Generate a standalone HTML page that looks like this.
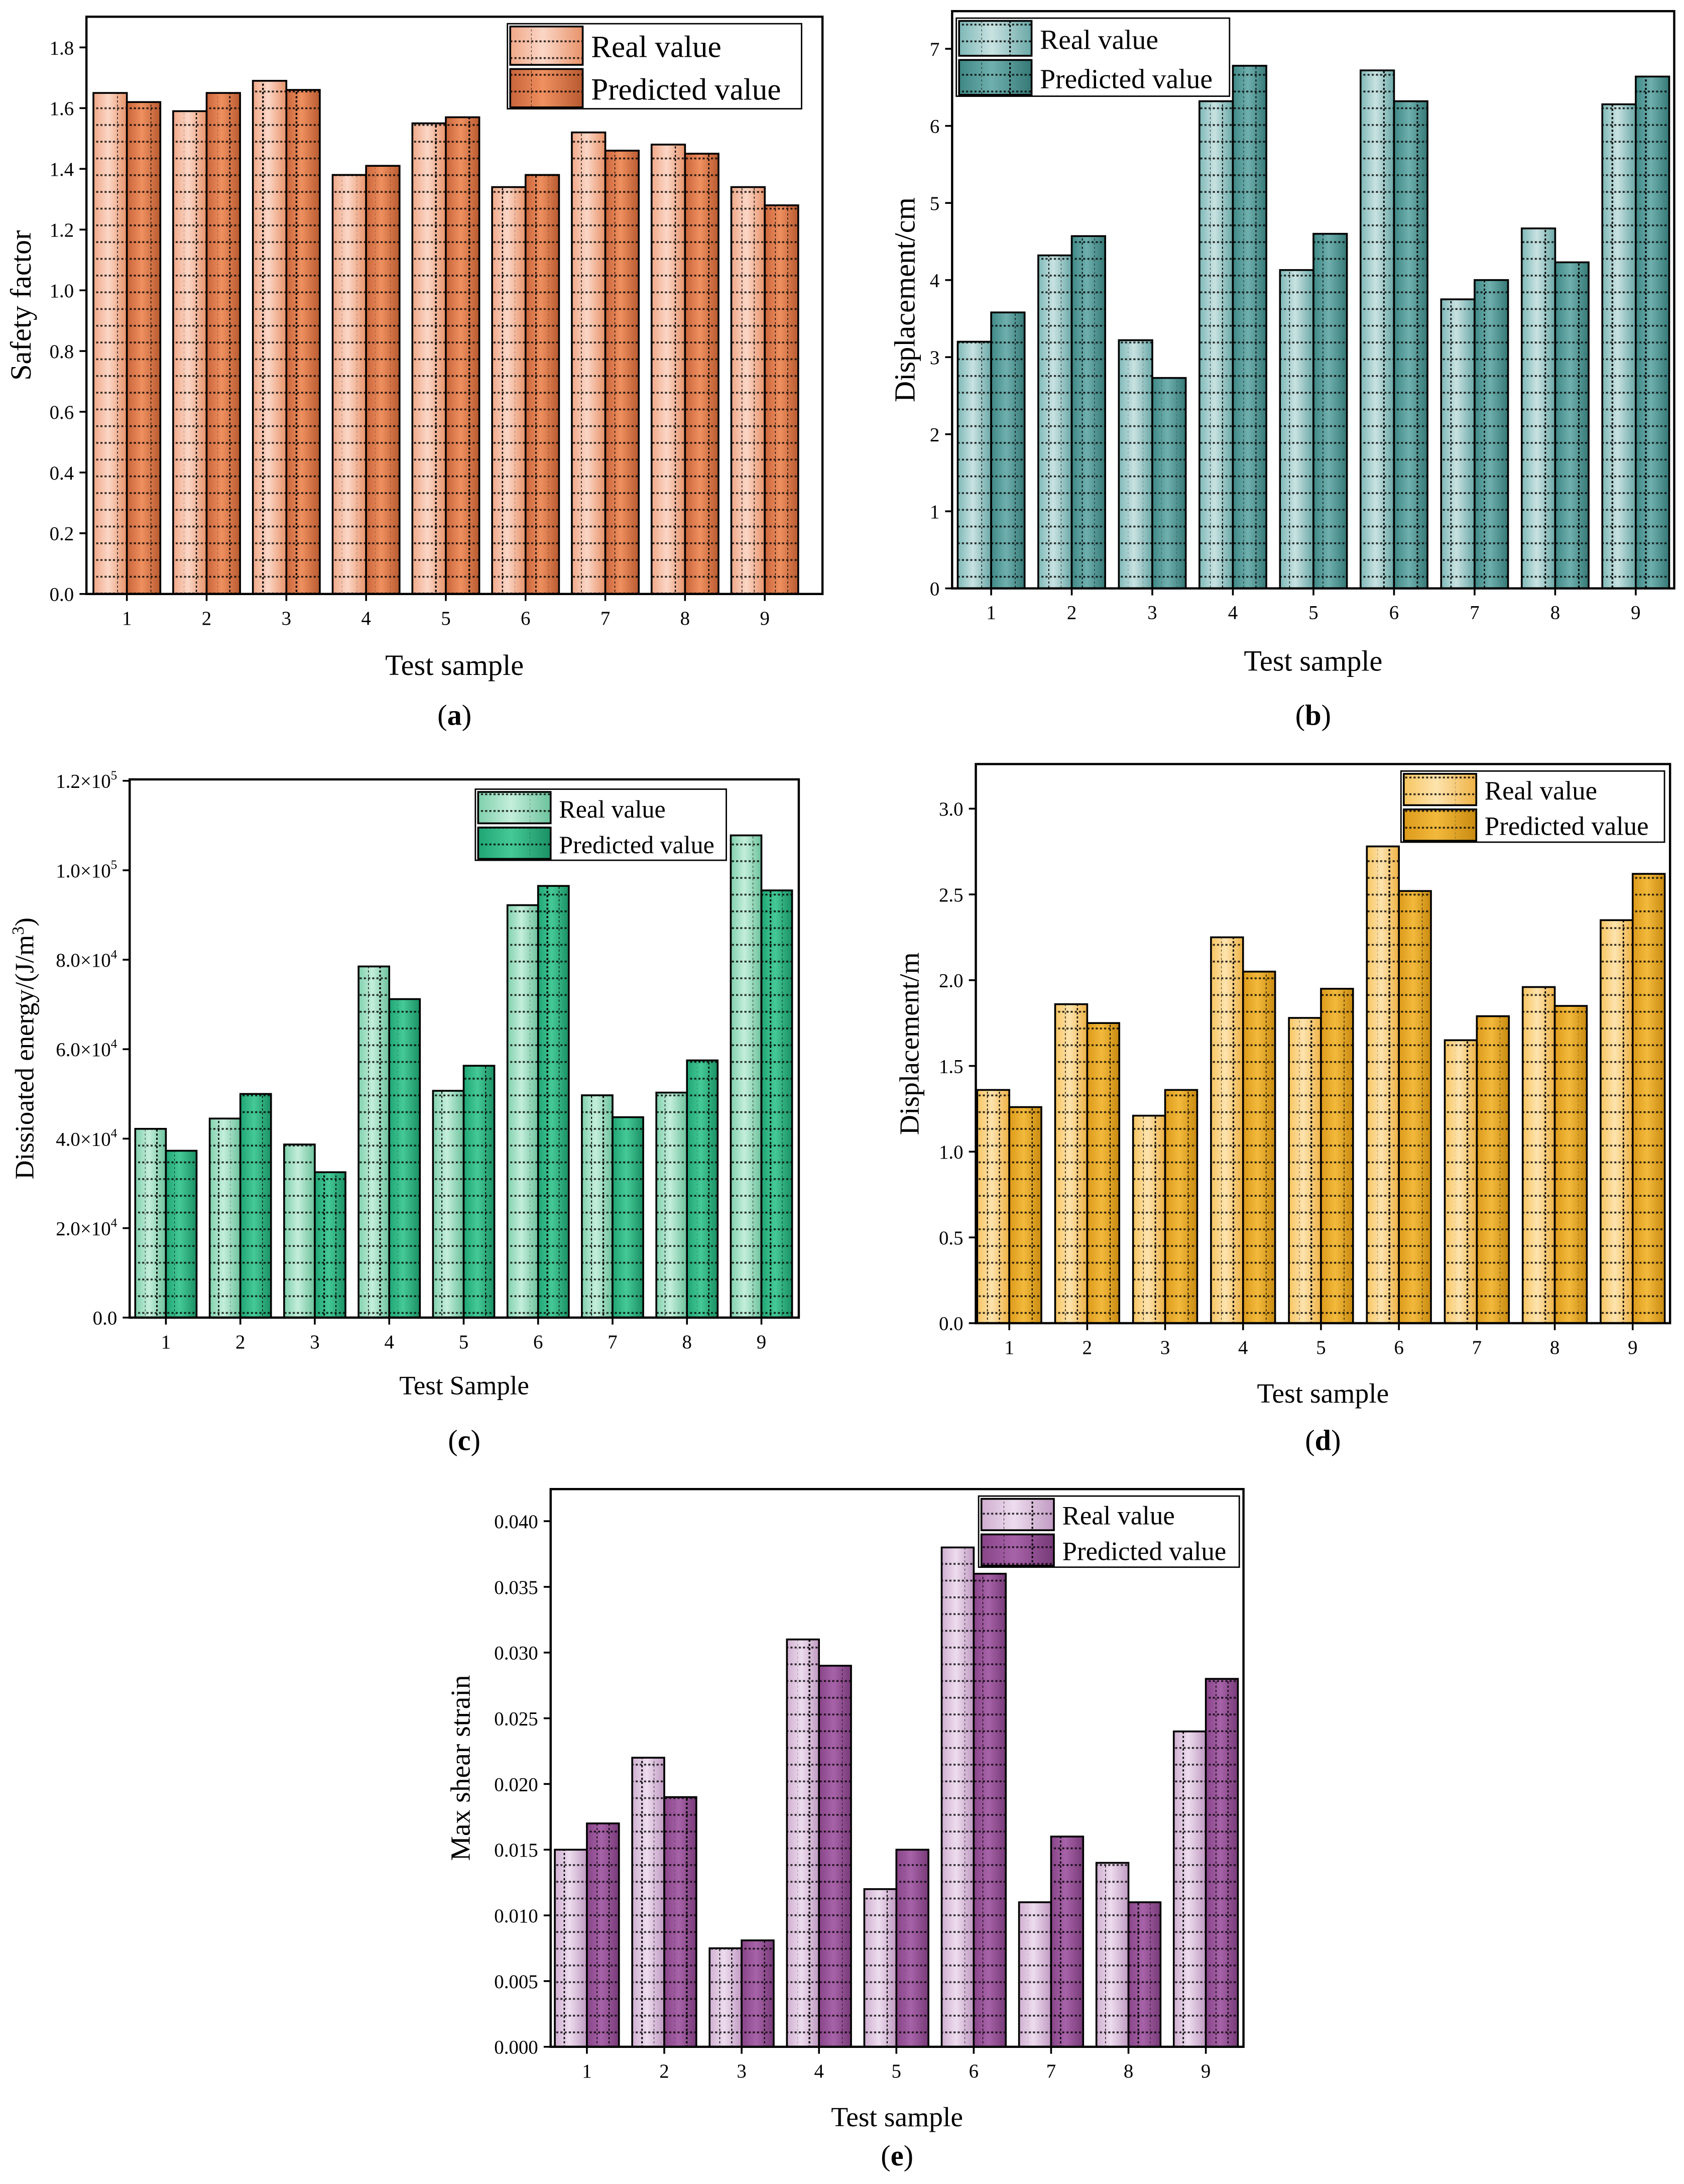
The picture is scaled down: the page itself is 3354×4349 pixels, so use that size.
<!DOCTYPE html>
<html><head><meta charset="utf-8"><style>
html,body{margin:0;padding:0;background:#fff}
svg{display:block}
text{font-family:"Liberation Serif",serif;fill:#000}
</style></head><body>
<svg id="fig" width="3354" height="4349" viewBox="0 0 1208 1566.4" xmlns="http://www.w3.org/2000/svg">
<defs>
<pattern id="hdots" width="3" height="12" patternUnits="userSpaceOnUse"><rect x="0" y="5" width="1.5" height="1.3" fill="#000"/></pattern>
<pattern id="vdots" width="4" height="3" patternUnits="userSpaceOnUse"><rect x="0" y="0" width="1.3" height="1.5" fill="#000"/></pattern>
</defs>
</svg>
<script>
const catLabels=["1","2","3","4","5","6","7","8","9"];
const aReal=[1.65,1.59,1.69,1.38,1.55,1.34,1.52,1.48,1.34];
const aPred=[1.62,1.65,1.66,1.41,1.57,1.38,1.46,1.45,1.28];
const bReal=[3.2,4.32,3.22,6.32,4.13,6.72,3.75,4.67,6.28];
const bPred=[3.58,4.57,2.73,6.78,4.6,6.32,4.0,4.23,6.64];
const cReal=[42200,44500,38700,78500,50700,92200,49700,50300,107800];
const cPred=[37300,50000,32500,71200,56300,96500,44800,57500,95500];
const dReal=[1.36,1.86,1.21,2.25,1.78,2.78,1.65,1.96,2.35];
const dPred=[1.26,1.75,1.36,2.05,1.95,2.52,1.79,1.85,2.62];
const eReal=[0.015,0.022,0.0075,0.031,0.012,0.038,0.011,0.014,0.024];
const ePred=[0.017,0.019,0.0081,0.029,0.015,0.036,0.016,0.011,0.028];
const aTicks=[0,0.2,0.4,0.6,0.8,1.0,1.2,1.4,1.6,1.8];
const bTicks=[0,1,2,3,4,5,6,7];
const cTicks=[0,20000,40000,60000,80000,100000,120000];
const dTicks=[0,0.5,1.0,1.5,2.0,2.5,3.0];
const eTicks=[0,0.005,0.010,0.015,0.020,0.025,0.030,0.035,0.040];

const NS="http://www.w3.org/2000/svg";
const svg=document.getElementById('fig');
function mk(tag,at,parent){const e=document.createElementNS(NS,tag);for(const k in at)e.setAttribute(k,at[k]);(parent||svg).appendChild(e);return e;}
let gid=0;
function grad(c1,c2,c3){const id='g'+(gid++);const defs=svg.querySelector('defs');const g=mk('linearGradient',{id:id,x1:0,x2:1,y1:0,y2:0},defs);
mk('stop',{offset:'0%','stop-color':c1},g);mk('stop',{offset:'45%','stop-color':c2},g);mk('stop',{offset:'100%','stop-color':c3},g);return 'url(#'+id+')';}
function bar(g,x,y,w,h,fill,name){
 const r=mk('rect',{x:x,y:y,width:w,height:h,fill:fill},g);
 
 
 mk('rect',{x:x,y:y,width:w,height:h,fill:'url(#hdots)',opacity:0.8},g);
 [0.3,0.7].forEach(f=>mk('rect',{x:x+w*f-0.6,y:y,width:1.3,height:h,fill:'url(#vdots)'},g));
 mk('rect',{x:x,y:y,width:w,height:h,fill:'none',stroke:'#000','stroke-width':1.3},g);
}
function panel(p){
 const g=mk('g',{});
 
 
 const yS=v=>p.y0-(v-0)/(p.ymax)*(p.y0-p.yTop);
 const xS=i=>p.cx0+i*p.step;
 const gr=grad(p.lc[0],p.lc[1],p.lc[2]), gd=grad(p.dc[0],p.dc[1],p.dc[2]);
 p.real.forEach((v,i)=>bar(g,xS(i)-p.bw,yS(v),p.bw,yS(0)-yS(v),gr,'real-bar-'+(i+1)));
 p.pred.forEach((v,i)=>bar(g,xS(i),yS(v),p.bw,yS(0)-yS(v),gd,'predicted-bar-'+(i+1)));
 const fr=mk('rect',{x:p.x1,y:p.ytop,width:p.x2-p.x1,height:p.y0-p.ytop,fill:'none',stroke:'#000','stroke-width':1.6},g);
 
 p.ticks.forEach(t=>{const y=yS(t);mk('line',{x1:p.x1-5,x2:p.x1,y1:y,y2:y,stroke:'#000','stroke-width':1.3},g);
  const tx=mk('text',{x:p.x1-9,y:y+5,'text-anchor':'end','font-size':p.fs},g);
  
  if(p.sci){ if(t===0){tx.textContent='0.0';} else {const ex=Math.floor(Math.log10(t)+1e-9);const m=(t/Math.pow(10,ex)).toFixed(1);
    tx.textContent=m+'×10';const s=mk('tspan',{'font-size':p.fs*0.65,dy:-6},tx);s.textContent=String(ex);}}
  else tx.textContent=t.toFixed(p.dec);});
 catLabels.forEach((c,i)=>{const x=xS(i);mk('line',{x1:x,x2:x,y1:p.y0,y2:p.y0+5,stroke:'#000','stroke-width':1.3},g);
  const tx=mk('text',{x:x,y:p.y0+22,'text-anchor':'middle','font-size':p.fs},g);tx.textContent=c;
  });
 const xt=mk('text',{x:(p.x1+p.x2)/2,y:p.xty,'text-anchor':'middle','font-size':p.tfs},g);xt.textContent=p.xtitle;
 
 const yx=p.ytx, ym=(p.ytop+p.y0)/2;
 const yt=mk('text',{x:yx,y:ym,'text-anchor':'middle','font-size':p.tfs,transform:'rotate(-90 '+yx+' '+ym+')'},g);
 yt.textContent=p.ytitle;
 if(p.ysup){const s=mk('tspan',{'font-size':p.tfs*0.65,dy:-7},yt);s.textContent='3';const s2=mk('tspan',{dy:7},yt);s2.textContent=')';}
 
 const cap=mk('text',{x:(p.x1+p.x2)/2,y:p.capy,'text-anchor':'middle','font-size':21},g);
 cap.textContent='(';const b=mk('tspan',{'font-weight':'bold'},cap);b.textContent=p.cap;const cl=mk('tspan',{},cap);cl.textContent=')';
 
 const L=p.leg;const lg=mk('g',{},g);
 
 mk('rect',{x:L[0],y:L[1],width:L[2]-L[0],height:L[3]-L[1],fill:'#fff',stroke:'#000','stroke-width':1},lg);
 const rh=(L[3]-L[1])/2;const sw=p.sw;
 [['Real value',gr],['Predicted value',gd]].forEach((e,k)=>{
  const y=L[1]+k*rh+2;bar(lg,L[0]+2,y,sw,rh-3,e[1],'legend-swatch');
  const t=mk('text',{x:L[0]+sw+8,y:y+rh*0.72,'font-size':p.lfs},lg);t.textContent=e[0];
  });
}
panel({name:'panel-a-safety-factor',real:aReal,pred:aPred,ticks:aTicks,dec:1,ymax:1.8,y0:426,yTop:34,ytop:12,x1:62,x2:590,cx0:91,step:57.2,bw:24,
 lc:['#f0a888','#fbd6c6','#e8936a'],dc:['#c8643a','#ef9060','#b85a30'],fs:14,tfs:21,xtitle:'Test sample',xty:484,ytitle:'Safety factor',ytx:22,capy:520,cap:'a',
 leg:[364,17,575,78],sw:52,lfs:22});
panel({name:'panel-b-displacement-cm',real:bReal,pred:bPred,ticks:bTicks,dec:0,ymax:7,y0:422,yTop:35,ytop:8,x1:683,x2:1201,cx0:711,step:57.8,bw:24,
 lc:['#7db8b7','#c8e2e1','#6aa8a7'],dc:['#3e8785','#6fb0ae','#357876'],fs:14,tfs:21,xtitle:'Test sample',xty:481,ytitle:'Displacement/cm',ytx:656,capy:520,cap:'b',
 leg:[686,13,882,69],sw:52,lfs:20});
panel({name:'panel-c-dissipated-energy',real:cReal,pred:cPred,ticks:cTicks,sci:true,ymax:120000,y0:945,yTop:560,ytop:559,x1:93,x2:573,cx0:119,step:53.4,bw:22,
 lc:['#7fd0ac','#c4eedb','#6cc29c'],dc:['#1fa574','#45c996','#1a9064'],fs:14,tfs:19,xtitle:'Test Sample',xty:1000,ytitle:'Dissioated energy/(J/m',ysup:true,ytx:24,capy:1040,cap:'c',
 leg:[341,566,521,617],sw:52,lfs:18});
panel({name:'panel-d-displacement-m',real:dReal,pred:dPred,ticks:dTicks,dec:1,ymax:3.0,y0:949,yTop:580,ytop:548,x1:700,x2:1198,cx0:724,step:55.9,bw:23,
 lc:['#f7c560','#fde3ae','#eeb244'],dc:['#dc9a1a','#f2b93c','#c88a10'],fs:14,tfs:20,xtitle:'Test sample',xty:1006,ytitle:'Displacement/m',ytx:659,capy:1040,cap:'d',
 leg:[1005,553,1194,604],sw:52,lfs:19});
panel({name:'panel-e-max-shear-strain',real:eReal,pred:ePred,ticks:eTicks,dec:3,ymax:0.040,y0:1468,yTop:1091,ytop:1068,x1:395,x2:892,cx0:421,step:55.5,bw:23,
 lc:['#cfaed0','#eddcee','#c09ac2'],dc:['#874487','#a763a8','#773a78'],fs:14,tfs:20,xtitle:'Test sample',xty:1525,ytitle:'Max shear strain',ytx:337,capy:1553,cap:'e',
 leg:[702,1073,889,1124],sw:52,lfs:19});
</script>
</body></html>
